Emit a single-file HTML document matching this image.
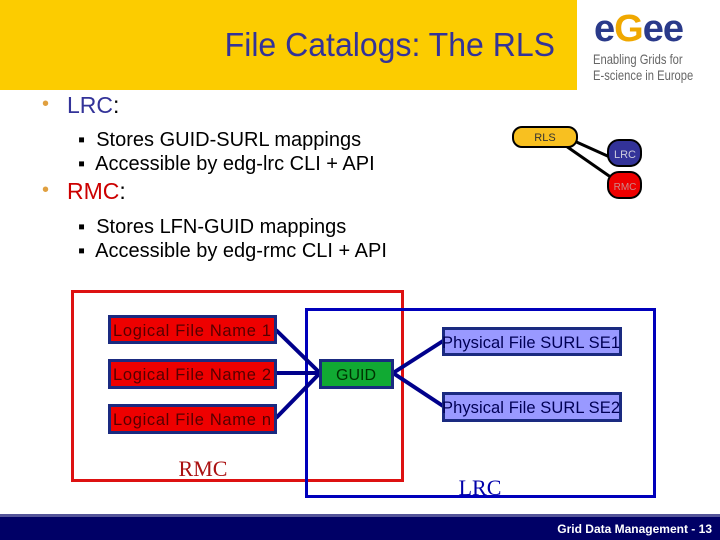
<!DOCTYPE html>
<html><head><meta charset="utf-8"><style>
body{margin:0;width:720px;height:540px;position:relative;overflow:hidden;background:#fff;font-family:"Liberation Sans",sans-serif}
.a{position:absolute;white-space:nowrap}
</style></head><body>
<div class="a" style="left:0;top:0;width:577px;height:90px;background:#fccc00"></div>
<div class="a" style="left:0;top:26px;width:555px;text-align:right;font-size:33px;color:#333399;transform:scaleX(0.97);transform-origin:555px 0">File Catalogs: The RLS</div>
<div class="a" style="left:594px;top:10px;font-size:38px;font-weight:bold;color:#2a3a8a;letter-spacing:-1px;line-height:38px">e<span style="color:#f0a800">G</span>ee</div>
<div class="a" style="left:593px;top:51px;font-size:14px;color:#666;line-height:16px;transform:scaleX(0.8);transform-origin:0 0">Enabling Grids for<br>E-science in Europe</div>

<div class="a" style="left:42px;top:93px;font-size:20px;color:#e0a040">•</div>
<div class="a" style="left:67px;top:92px;font-size:23px;color:#333399">LRC<span style="color:#000">:</span></div>
<div class="a" style="left:78px;top:128px;font-size:20px;line-height:24px;color:#000">▪&nbsp; Stores GUID-SURL mappings<br>▪&nbsp; Accessible by edg-lrc CLI + API</div>
<div class="a" style="left:42px;top:179px;font-size:20px;color:#e0a040">•</div>
<div class="a" style="left:67px;top:178px;font-size:23px;color:#cc0000">RMC<span style="color:#000">:</span></div>
<div class="a" style="left:78px;top:215px;font-size:20px;line-height:24px;color:#000">▪&nbsp; Stores LFN-GUID mappings<br>▪&nbsp; Accessible by edg-rmc CLI + API</div>

<svg class="a" style="left:0;top:0" width="720" height="540">
<line x1="572" y1="140" x2="612" y2="158" stroke="#000" stroke-width="3"/>
<line x1="566" y1="146" x2="612" y2="178" stroke="#000" stroke-width="3"/>
<rect x="513" y="127" width="64" height="20" rx="9" fill="#f8c020" stroke="#000" stroke-width="2"/>
<text x="545" y="141" font-size="11" text-anchor="middle" fill="#333">RLS</text>
<rect x="608" y="140" width="33" height="26" rx="11" fill="#333399" stroke="#000" stroke-width="2"/>
<text x="625" y="158" font-size="11" text-anchor="middle" fill="#ccd">LRC</text>
<rect x="608" y="172" width="33" height="26" rx="11" fill="#ee0000" stroke="#000" stroke-width="2"/>
<text x="625" y="190" font-size="10" text-anchor="middle" fill="#c88">RMC</text>

<rect x="72.5" y="291.5" width="330" height="189" fill="none" stroke="#dd1111" stroke-width="3"/>
<rect x="306.5" y="309.5" width="348" height="187" fill="none" stroke="#0000bb" stroke-width="3"/>
<g stroke="#00008b" stroke-width="4">
<line x1="276" y1="330" x2="320" y2="373"/><line x1="276" y1="373" x2="320" y2="373"/><line x1="276" y1="418" x2="320" y2="373"/>
<line x1="393" y1="373" x2="443" y2="341"/><line x1="393" y1="373" x2="443" y2="406"/>
</g>
<g stroke="#1a2a80" stroke-width="3">
<rect x="109.5" y="316.5" width="166" height="26" fill="#ee0000"/>
<rect x="109.5" y="360.5" width="166" height="27" fill="#ee0000"/>
<rect x="109.5" y="405.5" width="166" height="27" fill="#ee0000"/>
<rect x="320.5" y="360.5" width="72" height="27" fill="#11aa33"/>
<rect x="443.5" y="328.5" width="177" height="26" fill="#9999ff"/>
<rect x="443.5" y="393.5" width="177" height="27" fill="#9999ff"/>
</g>
<g font-size="16.5" fill="#550000">
<text x="113" y="336" textLength="158">Logical File Name 1</text>
<text x="113" y="380" textLength="158">Logical File Name 2</text>
<text x="113" y="425" textLength="158">Logical File Name n</text>
</g>
<text x="356" y="380" font-size="16" text-anchor="middle" fill="#003300">GUID</text>
<text x="442" y="348" font-size="16.5" fill="#000055" textLength="178">Physical File SURL SE1</text>
<text x="442" y="413" font-size="16.5" fill="#000055" textLength="178">Physical File SURL SE2</text>
<text x="203" y="476" font-size="22" font-family="Liberation Serif" text-anchor="middle" fill="#aa1111">RMC</text>
<text x="480" y="495" font-size="22" font-family="Liberation Serif" text-anchor="middle" fill="#0000aa">LRC</text>
</svg>
<div class="a" style="left:0;top:514px;width:720px;height:26px;background:#000066;border-top:3px solid #555599;box-sizing:border-box"></div>
<div class="a" style="right:8px;top:522px;font-size:12px;font-weight:bold;color:#fff">Grid Data Management - 13</div>
</body></html>
